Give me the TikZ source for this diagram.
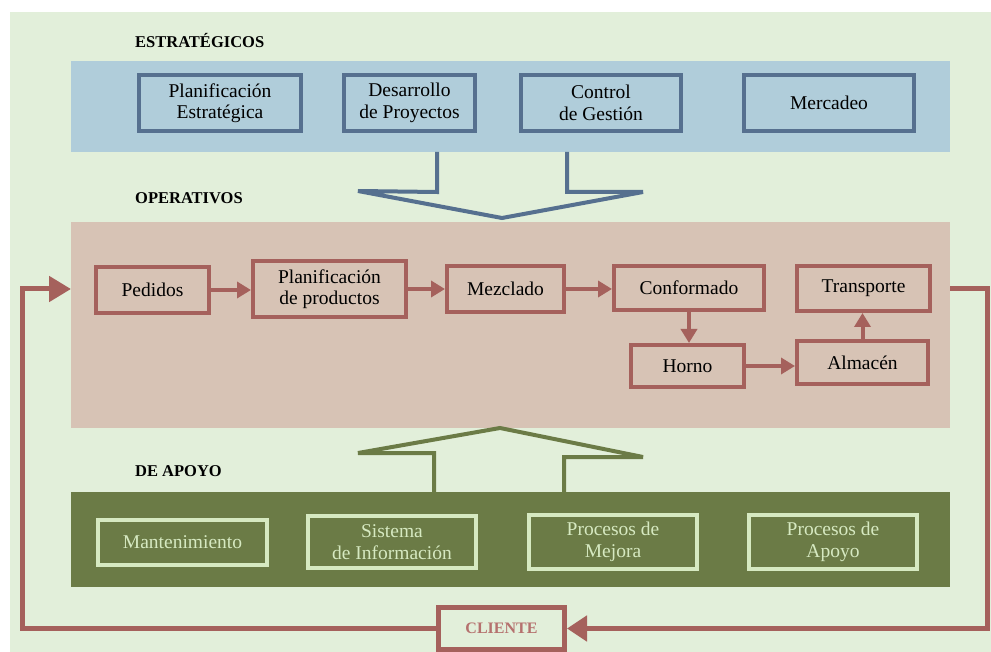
\documentclass[tikz,border=0pt]{standalone}
\usepackage{fontspec}
\setmainfont{Liberation Serif}
\usetikzlibrary{arrows.meta}

\definecolor{bgGreen}{HTML}{E2EFDA}
\definecolor{bandBlue}{HTML}{B0CDDA}
\definecolor{lineBlue}{HTML}{56708F}
\definecolor{bandRose}{HTML}{D7C3B5}
\definecolor{lineRed}{HTML}{A5615C}
\definecolor{bandOlive}{HTML}{6B7B46}
\definecolor{paleGreen}{HTML}{D6E9C1}
\definecolor{clientText}{HTML}{B5716E}

\begin{document}
\begin{tikzpicture}[x=1pt,y=-1pt,
  band/.style={draw=none, inner sep=0pt, outer sep=0pt, anchor=north west},
  box/.style={rectangle, line width=4pt, inner sep=0pt, align=center,
    font=\fontsize{19.5}{21.5}\selectfont},
  stratbox/.style={box, draw=lineBlue, fill=bandBlue},
  opbox/.style={box, draw=lineRed, fill=bandRose},
  supbox/.style={box, draw=paleGreen, fill=bandOlive, text=paleGreen},
  title/.style={anchor=base west, inner sep=0pt,
    font=\bfseries\fontsize{16.5}{18}\selectfont},
  flow/.style={draw=lineRed, line width=4pt, -{Triangle[length=14pt,width=16pt]}},
  loopline/.style={draw=lineRed, line width=5pt, line join=miter},
  blockarrow/.style={line width=4pt, line join=miter},
]
\useasboundingbox (0,0) rectangle (991,652);
\fill[white] (0,0) rectangle (991,652);
\fill[bgGreen] (10,12) rectangle (991,652);

% section titles
\node[title] (tStrat) at (135,48) {ESTRATÉGICOS};
\node[title] (tOper)  at (135,204) {OPERATIVOS};
\node[title] (tSupp)  at (135,476) {DE APOYO};

% coloured bands
\node[band, fill=bandBlue, minimum width=879pt, minimum height=91pt] (stratband) at (71,61) {};
\node[band, fill=bandRose, minimum width=879pt, minimum height=206pt] (opband) at (71,222) {};
\node[band, fill=bandOlive, minimum width=879pt, minimum height=95pt] (supband) at (71,492) {};

% outlined block arrows between the bands
\draw[blockarrow, draw=lineBlue] (437,152) -- (437,192) -- (358,191) -- (502,218)
  -- (643,192) -- (567,192) -- (567,152);
\draw[blockarrow, draw=bandOlive] (434,492) -- (434,453) -- (358,453) -- (500,428)
  -- (643,457) -- (564,457) -- (564,492);

% strategic processes
\node[stratbox, minimum width=162pt, minimum height=56pt] (pe) at (220,103) {Planificación\\Estratégica};
\node[stratbox, minimum width=131pt, minimum height=56pt] (dp) at (409.5,103) {Desarrollo\\de Proyectos};
\node[stratbox, minimum width=160pt, minimum height=56pt] (cg) at (601,103) {Control\\de Gestión};
\node[stratbox, minimum width=170pt, minimum height=56pt] (me) at (829,103) {Mercadeo};

% operational chain
\node[opbox, minimum width=113pt, minimum height=46pt] (ped) at (152.5,290) {Pedidos};
\node[opbox, minimum width=153pt, minimum height=56pt] (plan) at (329.5,289) {Planificación\\de productos};
\node[opbox, minimum width=117pt, minimum height=46pt] (mez) at (505.5,289) {Mezclado};
\node[opbox, minimum width=150pt, minimum height=44pt] (conf) at (689,288) {Conformado};
\node[opbox, minimum width=133pt, minimum height=45pt] (trans) at (863.5,288.5) {Transporte};
\node[opbox, minimum width=113pt, minimum height=42pt] (horno) at (687.5,366) {Horno};
\node[opbox, minimum width=131pt, minimum height=43pt] (alm) at (862.5,362.5) {Almacén};

\draw[flow] (ped.east) -- (ped.east -| plan.west);
\draw[flow] (plan.east) -- (plan.east -| mez.west);
\draw[flow] (mez.east) -- (mez.east -| conf.west);
\draw[flow] (conf.south) -- (conf.south |- horno.north);
\draw[flow] (horno.east) -- (horno.east -| alm.west);
\draw[flow] (alm.north) -- (alm.north |- trans.south);

% support processes
\node[supbox, minimum width=169pt, minimum height=45pt] (mant) at (182.5,542.5) {Mantenimiento};
\node[supbox, minimum width=168pt, minimum height=52pt] (sist) at (392,542) {Sistema\\de Información};
\node[supbox, minimum width=168pt, minimum height=54pt] (mej) at (613,542) {Procesos de\\Mejora};
\node[supbox, minimum width=168pt, minimum height=54pt] (apo) at (833,542) {Procesos de\\Apoyo};

% customer and feedback loop
\node[draw=lineRed, line width=5pt, fill=bgGreen, inner sep=0pt,
  minimum width=126pt, minimum height=42pt, text=clientText,
  font=\bfseries\fontsize{16}{18}\selectfont] (cli) at (501.5,628.5) {CLIENTE};

\coordinate (rtop) at (987,289);
\coordinate (rbot) at (987,628.5);
\coordinate (lbot) at (22,628.5);
\coordinate (ltop) at (22,289);

\draw[loopline, -{Triangle[length=20pt,width=25pt]}]
  (opband.east |- rtop) -- (rtop) -- (rbot) -- (cli.east);
\draw[loopline, -{Triangle[length=22pt,width=25pt]}]
  (cli.west) -- (lbot) -- (ltop) -- (opband.west |- ltop);
\end{tikzpicture}
\end{document}
